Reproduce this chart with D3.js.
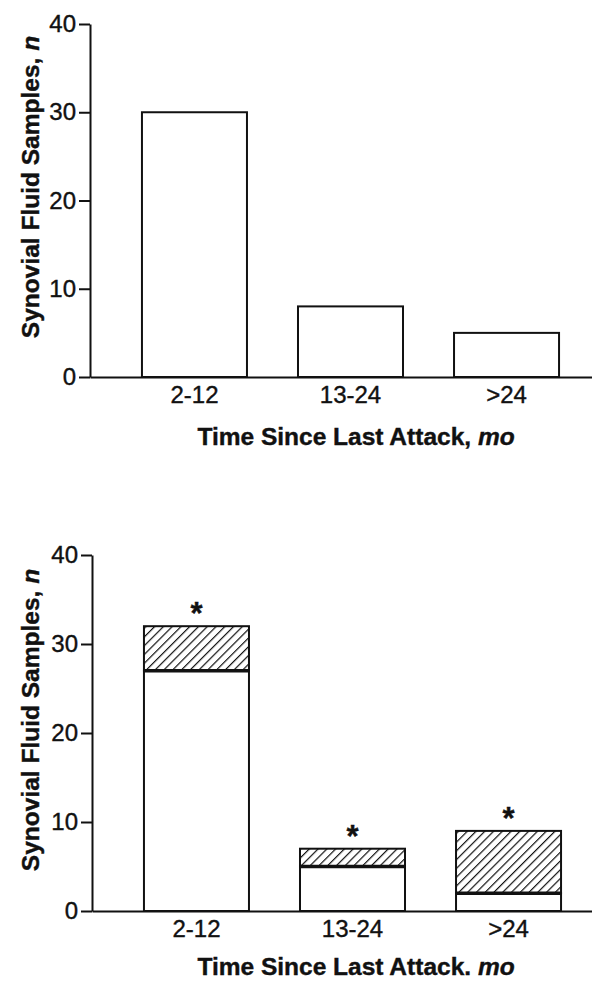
<!DOCTYPE html>
<html>
<head>
<meta charset="utf-8">
<script src="https://cdn.jsdelivr.net/npm/d3@7"></script>
<style>
  body { margin: 0; background: #fff; }
  svg { display: block; }
  text { font-family: "Liberation Sans", Arial, sans-serif; fill: #111; stroke: #111; stroke-width: 0.4px; }
  .tick text { font-size: 24px; }
  .title { font-size: 24.5px; font-weight: bold; }
</style>
</head>
<body>
<div id="chart"></div>
<script>
// data
const categories = ["2-12", "13-24", ">24"];
const topCounts = [30, 8, 5];          // top panel
const bottomPlain = [27, 5, 2];        // bottom panel, white part
const bottomTotal = [32, 7, 9];        // bottom panel, white + hatched
const yTicks = [0, 10, 20, 30, 40];

let W = 592, H = 981;

let svg = d3.select("#chart")
  .append("svg")
    .attr("width", W)
    .attr("height", H);

// hatch pattern
svg.append("defs")
  .append("pattern")
    .attr("id", "hatch")
    .attr("patternUnits", "userSpaceOnUse")
    .attr("width", 6.2)
    .attr("height", 6.2)
    .attr("patternTransform", "rotate(45)")
  .append("line")
    .attr("x1", 0).attr("y1", 0)
    .attr("x2", 0).attr("y2", 6.2)
    .attr("stroke", "#111")
    .attr("stroke-width", 2.4);

svg.append("rect").attr("width", W).attr("height", H).attr("fill", "#fff");

function panel(left, bottom, top, xTitle, titleY, yLabelY) {
  let g = svg.append("g");

  let x = d3.scaleBand()
    .domain(categories)
    .range([left, left + 521])
    .paddingInner(0.327)
    .paddingOuter(0.333);

  let y = d3.scaleLinear()
    .domain([0, 40])
    .range([bottom, top]);

  let yAxis = d3.axisLeft(y)
    .tickValues(yTicks)
    .tickSize(11)
    .tickSizeOuter(0)
    .tickPadding(3);

  let ya = g.append("g")
    .attr("transform", "translate(" + left + ",0)")
    .call(yAxis);
  ya.selectAll("path, line").attr("stroke", "#111").attr("stroke-width", 2);

  let xAxis = d3.axisBottom(x)
    .tickSize(0)
    .tickSizeOuter(0)
    .tickPadding(8);

  let xa = g.append("g")
    .attr("transform", "translate(0," + bottom + ")")
    .call(xAxis);
  xa.select(".domain").attr("stroke", "#111").attr("stroke-width", 2);
  xa.selectAll("text").attr("dy", "0.75em");

  // axis titles
  let xt = g.append("text")
    .attr("class", "title")
    .attr("x", 356)
    .attr("y", titleY)
    .attr("text-anchor", "middle");
  xt.append("tspan").text(xTitle);
  xt.append("tspan").style("font-style", "italic").text("mo");

  let yt = g.append("text")
    .attr("class", "title")
    .attr("transform", "translate(39," + yLabelY + ") rotate(-90)")
    .attr("text-anchor", "middle");
  yt.append("tspan").text("Synovial Fluid Samples, ");
  yt.append("tspan").style("font-style", "italic").text("n");

  return {g: g, x: x, y: y};
}

// top panel
let p1 = panel(90, 377, 24, "Time Since Last Attack, ", 445, 187);

p1.g.selectAll(".bar")
  .data(categories)
  .enter()
  .append("rect")
    .attr("x", d => p1.x(d))
    .attr("y", (d, i) => p1.y(topCounts[i]))
    .attr("width", p1.x.bandwidth())
    .attr("height", (d, i) => p1.y(0) - p1.y(topCounts[i]))
    .attr("fill", "#fff")
    .attr("stroke", "#111")
    .attr("stroke-width", 2);

// bottom panel
let p2 = panel(92, 911, 555, "Time Since Last Attack. ", 975, 720);

let bars = p2.g.selectAll(".sbar")
  .data(categories)
  .enter()
  .append("g");

bars.append("rect")
    .attr("x", d => p2.x(d))
    .attr("y", (d, i) => p2.y(bottomTotal[i]))
    .attr("width", p2.x.bandwidth())
    .attr("height", (d, i) => p2.y(bottomPlain[i]) - p2.y(bottomTotal[i]))
    .attr("fill", "url(#hatch)")
    .attr("stroke", "#111")
    .attr("stroke-width", 2);

bars.append("rect")
    .attr("x", d => p2.x(d))
    .attr("y", (d, i) => p2.y(bottomPlain[i]))
    .attr("width", p2.x.bandwidth())
    .attr("height", (d, i) => p2.y(0) - p2.y(bottomPlain[i]))
    .attr("fill", "#fff")
    .attr("stroke", "#111")
    .attr("stroke-width", 2);

bars.append("line")
    .attr("x1", d => p2.x(d))
    .attr("x2", d => p2.x(d) + p2.x.bandwidth())
    .attr("y1", (d, i) => p2.y(bottomPlain[i]))
    .attr("y2", (d, i) => p2.y(bottomPlain[i]))
    .attr("stroke", "#111")
    .attr("stroke-width", 3.5);

bars.append("text")
    .attr("x", d => p2.x(d) + p2.x.bandwidth() / 2)
    .attr("y", (d, i) => p2.y(bottomTotal[i]) - 2)
    .attr("text-anchor", "middle")
    .style("font-size", "31px")
    .style("font-weight", "bold")
    .text("*");
</script>
</body>
</html>
